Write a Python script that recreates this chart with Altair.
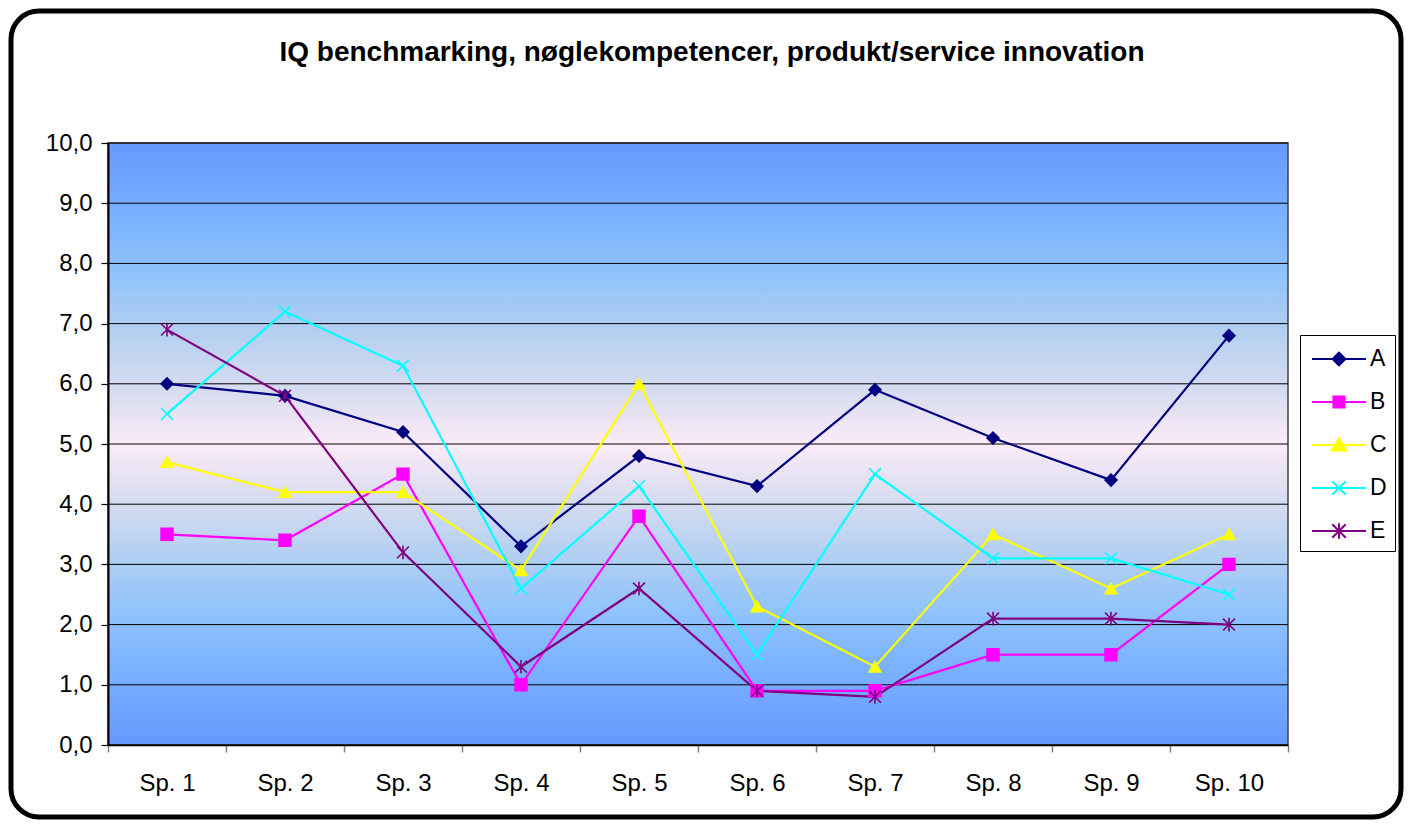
import altair as alt
import pandas as pd

# ---------------- data ----------------
categories = ["Sp. 1", "Sp. 2", "Sp. 3", "Sp. 4", "Sp. 5",
              "Sp. 6", "Sp. 7", "Sp. 8", "Sp. 9", "Sp. 10"]
series_names = ["A", "B", "C", "D", "E"]
values_A = [6.0, 5.8, 5.2, 3.3, 4.8, 4.3, 5.9, 5.1, 4.4, 6.8]
values_B = [3.5, 3.4, 4.5, 1.0, 3.8, 0.9, 0.9, 1.5, 1.5, 3.0]
values_C = [4.7, 4.2, 4.2, 2.9, 6.0, 2.3, 1.3, 3.5, 2.6, 3.5]
values_D = [5.5, 7.2, 6.3, 2.6, 4.3, 1.5, 4.5, 3.1, 3.1, 2.5]
values_E = [6.9, 5.8, 3.2, 1.3, 2.6, 0.9, 0.8, 2.1, 2.1, 2.0]
y_ticks = [0, 1, 2, 3, 4, 5, 6, 7, 8, 9, 10]
title_text = "IQ benchmarking, nøglekompetencer, produkt/service innovation"

# ---------------- styles ----------------
FONT = "Liberation Sans"
PLOT_W, PLOT_H = 1180, 602
line_colors = ["#000080", "#FF00FF", "#FFFF00", "#00FFFF", "#800080"]
marker_fills = ["#000080", "#FF00FF", "#FFFF00", "transparent", "transparent"]

X_PATH = "M-1,-1L1,1M-1,1L1,-1"
AST_PATH = "M-1,-1L1,1M-1,1L1,-1M0,-1.15L0,1.15"
marker_shapes = ["diamond", "square", "triangle-up", X_PATH, AST_PATH]

LINE = "M-0.8,0H2.8"
legend_shapes = [
    LINE + "M0.57,0L1,-0.43L1.43,0L1,0.43Z",
    LINE + "M0.63,-0.37H1.37V0.37H0.63Z",
    LINE + "M1,-0.45L1.47,0.37L0.53,0.37Z",
    LINE + "M0.55,-0.45L1.45,0.45M0.55,0.45L1.45,-0.45",
    LINE + "M0.55,-0.45L1.45,0.45M0.55,0.45L1.45,-0.45M1,-0.52V0.52",
]

series_values = {"A": values_A, "B": values_B, "C": values_C,
                 "D": values_D, "E": values_E}
rows = []
for s in series_names:
    for c, v in zip(categories, series_values[s]):
        rows.append({"cat": c, "series": s, "value": v})
df = pd.DataFrame(rows)
ticks_df = pd.DataFrame({"value": y_ticks})

x_enc = alt.X(
    "cat:O", sort=categories, bandPosition=0.5,
    scale=alt.Scale(type="band", paddingInner=0, paddingOuter=0),
    axis=alt.Axis(title=None, labelAngle=0, tickBand="extent",
                  tickColor="#808080", tickSize=7, tickWidth=1.5,
                  labelFont=FONT, labelFontSize=24, labelColor="black",
                  labelPadding=19, domainColor="black", domainWidth=1.5,
                  zindex=1),
)
y_enc = alt.Y(
    "value:Q",
    scale=alt.Scale(domain=[0, 10], nice=False, zero=True),
    axis=alt.Axis(title=None, values=y_ticks, grid=False,
                  labelExpr="replace(format(datum.value, '.1f'), '.', ',')",
                  tickColor="black", tickSize=7, tickWidth=1.2,
                  labelFont=FONT, labelFontSize=24, labelColor="black",
                  labelPadding=9, domainColor="black", domainWidth=2,
                  zindex=1),
)

gradient = alt.LinearGradient(
    gradient="linear", x1=0, x2=0, y1=0, y2=1,
    stops=[
        alt.GradientStop(offset=0.0, color="#6699FF"),
        alt.GradientStop(offset=0.12, color="#79B1FF"),
        alt.GradientStop(offset=0.22, color="#90C3FA"),
        alt.GradientStop(offset=0.32, color="#B6D0F0"),
        alt.GradientStop(offset=0.42, color="#DADDF0"),
        alt.GradientStop(offset=0.5, color="#FCEBF8"),
        alt.GradientStop(offset=0.58, color="#DCDEF0"),
        alt.GradientStop(offset=0.68, color="#B4D0F2"),
        alt.GradientStop(offset=0.78, color="#90C3FB"),
        alt.GradientStop(offset=0.88, color="#79B0FF"),
        alt.GradientStop(offset=1.0, color="#6699FF"),
    ],
)

bg = alt.Chart(alt.Data(values=[{"k": 0}])).mark_rect(
    fill=gradient, stroke="#404040", strokeWidth=1.5
).encode(
    x=alt.value(0), x2=alt.value(PLOT_W), y=alt.value(0), y2=alt.value(PLOT_H)
)

grid = alt.Chart(ticks_df).mark_rule(color="black", strokeWidth=1).encode(y=y_enc)

lines = alt.Chart(df).mark_line(strokeWidth=2.2).encode(
    x=x_enc, y=y_enc,
    color=alt.Color("series:N", scale=alt.Scale(domain=series_names, range=line_colors), legend=None),
    detail="series:N",
)

points = alt.Chart(df).mark_point(size=140, strokeWidth=1.6, opacity=1).encode(
    x=x_enc, y=y_enc,
    shape=alt.Shape("series:N", scale=alt.Scale(domain=series_names, range=marker_shapes), legend=None),
    stroke=alt.Stroke("series:N", scale=alt.Scale(domain=series_names, range=line_colors), legend=None),
    fill=alt.Fill("series:N", scale=alt.Scale(domain=series_names, range=marker_fills), legend=None),
)

leg = alt.Legend(
    orient="none", legendX=1192, legendY=192, title=None, padding=8,
    strokeColor="black", fillColor="white", symbolSize=900,
    symbolStrokeWidth=2, symbolOpacity=1, labelFont=FONT, labelFontSize=23,
    labelColor="black", labelOffset=30, rowPadding=15,
)
legend_layer = alt.Chart(df).mark_point(size=100, opacity=0).encode(
    x=x_enc, y=y_enc,
    shape=alt.Shape("series:N", scale=alt.Scale(domain=series_names, range=legend_shapes), legend=leg),
    stroke=alt.Stroke("series:N", scale=alt.Scale(domain=series_names, range=line_colors), legend=leg),
    fill=alt.Fill("series:N", scale=alt.Scale(domain=series_names, range=marker_fills), legend=leg),
)

title = alt.Chart(alt.Data(values=[{"k": 0}])).mark_text(
    text=title_text, font=FONT, fontSize=28, fontWeight="bold",
    color="black", align="center", baseline="middle"
).encode(x=alt.value(604), y=alt.value(-90))

border = alt.Chart(alt.Data(values=[{"k": 0}])).mark_rect(
    filled=False, stroke="black", strokeWidth=5, cornerRadius=28
).encode(x=alt.value(-97), x2=alt.value(1293), y=alt.value(-132), y2=alt.value(674))

chart = alt.layer(bg, grid, lines, points, legend_layer, title, border).resolve_scale(
    shape="independent", stroke="independent", fill="independent"
).properties(
    width=PLOT_W, height=PLOT_H,
    autosize=alt.AutoSizeParams(type="none"),
    padding={"left": 100, "top": 135, "right": 116, "bottom": 75},
    background="white",
).configure_view(stroke="transparent")

chart.save("out.html", embed_options={"renderer": "svg", "actions": False})
